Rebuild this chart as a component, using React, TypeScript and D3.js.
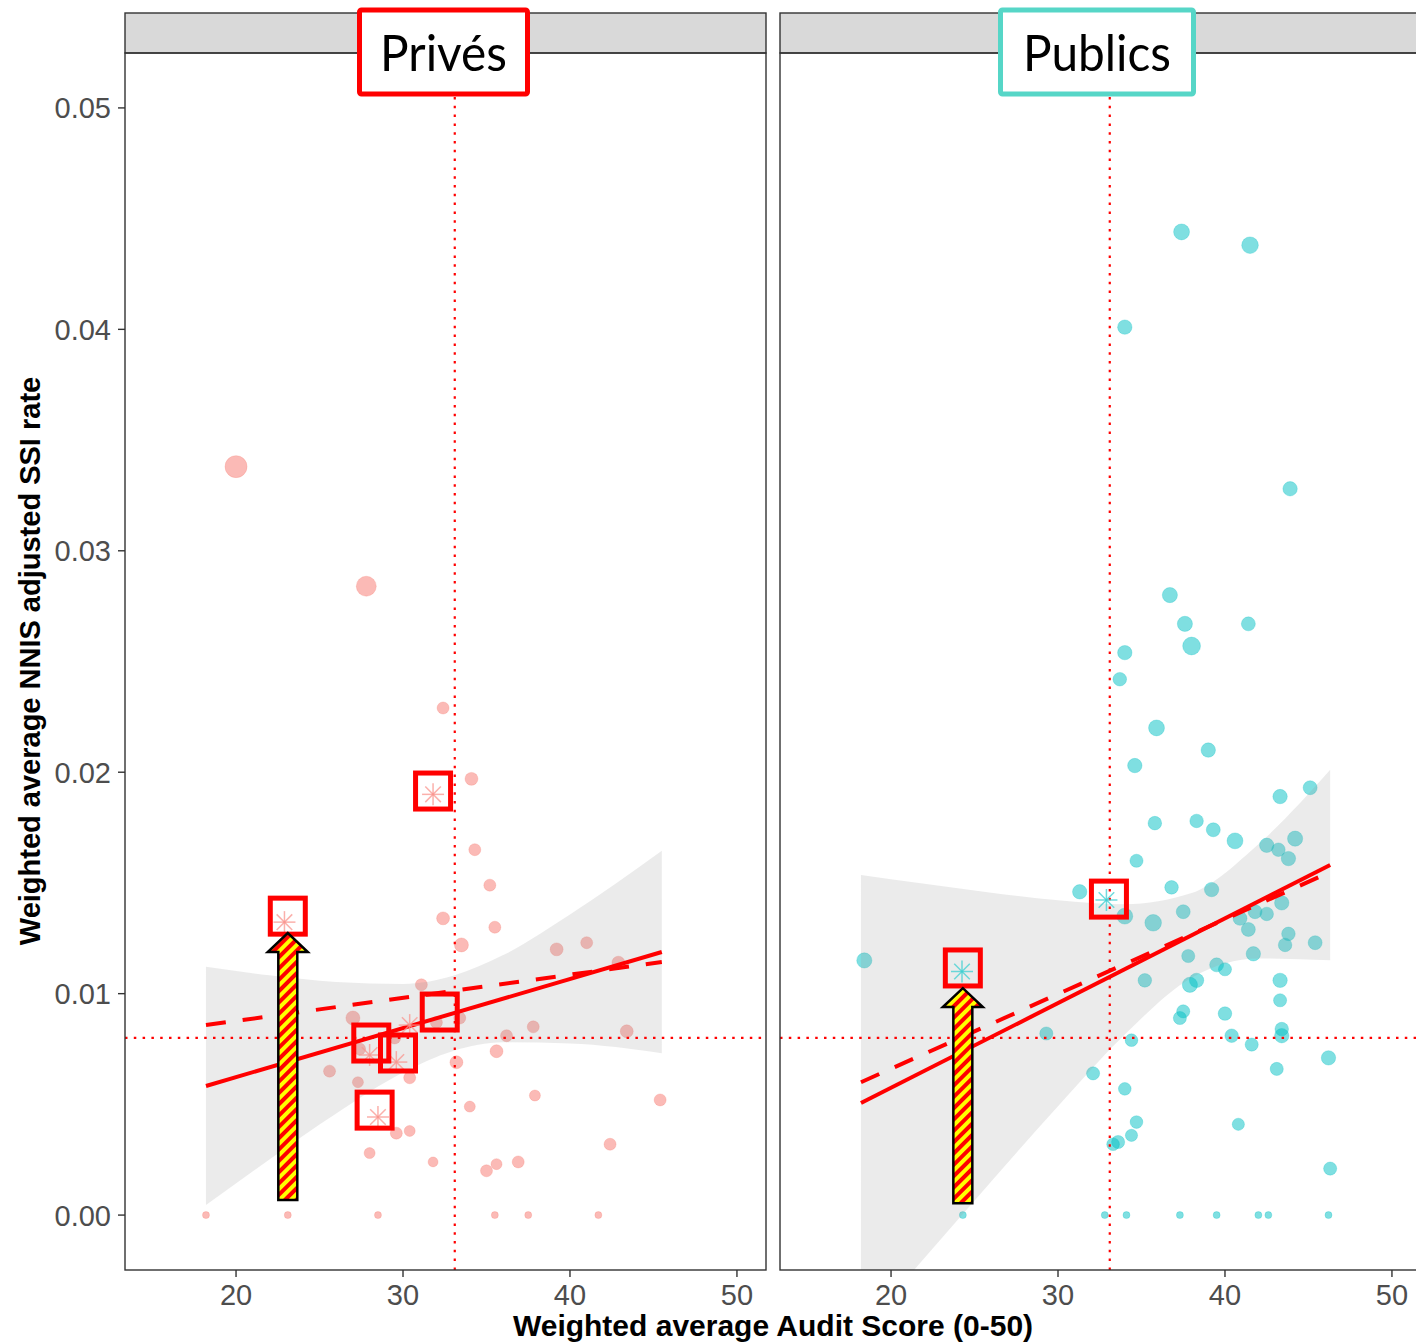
import React, { useEffect, useRef } from 'react';
import * as d3 from 'd3';

const WIDTH = 1416;
const HEIGHT = 1343;

// Privés: weighted audit score, NNIS adjusted SSI rate, weight (point size)
const privesScore = [20.0, 27.8, 32.4, 34.1, 34.3, 35.2, 32.4, 35.5, 33.5, 39.2, 41.0, 42.9, 31.1, 27.0, 32.0, 33.4, 37.8, 36.2, 43.4, 29.5, 27.4, 35.6, 33.2, 30.4, 25.6, 27.3, 34.0, 37.9, 45.4, 29.6, 30.4, 42.4, 28.0, 31.8, 35.6, 35.0, 36.9, 18.2, 23.1, 28.5, 35.5, 37.5, 41.7];
const privesRate = [0.0338, 0.0284, 0.0229, 0.0197, 0.0165, 0.0149, 0.0134, 0.013, 0.0122, 0.012, 0.0123, 0.0114, 0.0104, 0.0089, 0.0087, 0.0089, 0.0085, 0.0081, 0.0083, 0.008, 0.0075, 0.0074, 0.0069, 0.0062, 0.0065, 0.006, 0.0049, 0.0054, 0.0052, 0.0037, 0.0038, 0.0032, 0.0028, 0.0024, 0.0023, 0.002, 0.0024, 0, 0, 0, 0, 0, 0];
const privesWeight = [8.4, 6.9, 2.5, 2.9, 2.5, 2.5, 2.9, 2.5, 3.4, 2.9, 2.5, 2.9, 2.5, 3.4, 2.5, 2.5, 2.5, 2.5, 2.9, 2.5, 2.5, 2.9, 2.9, 2.5, 2.5, 2.1, 2.1, 2.1, 2.5, 2.5, 2.1, 2.5, 2.1, 1.7, 2.1, 2.5, 2.5, 0.85, 0.85, 0.85, 0.85, 0.85, 0.85];
const privesStarScore = [22.9, 31.8, 28.0, 29.6, 28.5, 30.4];
const privesStarRate = [0.01323, 0.019, 0.00723, 0.00691, 0.00443, 0.00858];
const privesBoxScore = [23.1, 31.8, 28.1, 29.7, 32.2, 28.3];
const privesBoxRate = [0.0135, 0.01915, 0.00777, 0.00732, 0.00917, 0.00474];
const privesFitScore = [18.2, 45.5];
const privesFitWeighted = [0.00583, 0.01188];
const privesFitDashed = [0.00858, 0.01143];
const privesBandScore = [18.2, 22, 26, 30, 33, 36, 40, 45.5];
const privesBandLow = [0.00045, 0.00251, 0.00459, 0.00644, 0.00741, 0.0078, 0.00775, 0.00731];
const privesBandHigh = [0.01121, 0.01083, 0.01053, 0.01044, 0.01081, 0.01174, 0.01357, 0.01645];
const privesArrow = { score: 23.1, from: 0.00068, to: 0.01274 };

// Publics
const publicsScore = [37.4, 41.5, 34.0, 43.9, 36.7, 37.6, 41.4, 38.0, 34.0, 33.7, 35.9, 39.0, 34.6, 45.1, 43.3, 38.3, 35.8, 39.3, 40.6, 42.5, 43.2, 44.2, 43.8, 34.7, 31.3, 36.8, 39.2, 43.4, 37.5, 34.0, 35.7, 40.9, 41.8, 42.5, 41.4, 43.8, 41.7, 45.4, 43.6, 37.8, 35.2, 39.5, 40.0, 43.3, 38.3, 37.9, 43.3, 37.5, 37.3, 40.0, 29.3, 34.4, 40.4, 43.4, 43.4, 41.6, 46.2, 32.1, 34.0, 43.1, 34.7, 40.8, 34.4, 33.6, 33.3, 46.3, 18.4, 24.3, 32.8, 34.1, 37.3, 39.5, 42.0, 42.6, 46.2];
const publicsRate = [0.0444, 0.0438, 0.0401, 0.0328, 0.028, 0.0267, 0.0267, 0.0257, 0.0254, 0.0242, 0.022, 0.021, 0.0203, 0.0193, 0.0189, 0.0178, 0.0177, 0.0174, 0.0169, 0.0167, 0.0165, 0.017, 0.0161, 0.016, 0.0146, 0.0148, 0.0147, 0.0141, 0.0137, 0.0135, 0.0132, 0.0134, 0.0137, 0.0136, 0.0129, 0.0127, 0.0118, 0.0123, 0.0122, 0.0117, 0.0106, 0.0113, 0.0111, 0.0106, 0.0106, 0.0104, 0.0097, 0.0092, 0.0089, 0.0091, 0.0082, 0.0079, 0.0081, 0.0084, 0.0081, 0.0077, 0.0071, 0.0064, 0.0057, 0.0066, 0.0042, 0.0041, 0.0036, 0.0033, 0.0032, 0.0021, 0.0115, 0, 0, 0, 0, 0, 0, 0, 0];
const publicsWeight = [4.4, 4.8, 3.6, 3.6, 4, 4, 3.4, 5.5, 3.6, 3.2, 4.4, 3.6, 3.6, 3.4, 3.6, 3.2, 3.2, 3.4, 4.4, 3.6, 3.2, 4, 3.6, 3, 3.6, 3.2, 3.6, 3.6, 3.4, 4.4, 4.8, 3.4, 3.4, 3.2, 3.4, 3.2, 3.6, 3.4, 3.2, 3, 3.2, 3.4, 3, 3.6, 3.6, 4, 3, 3, 3, 3.2, 3, 2.8, 3.2, 3.2, 3.6, 3, 3.6, 3, 2.8, 3, 2.8, 2.6, 2.6, 3, 2.8, 3, 4, 0.85, 0.85, 0.85, 0.85, 0.85, 0.85, 0.85, 0.85];
const publicsStarScore = [24.25, 32.9];
const publicsStarRate = [0.011, 0.01423];
const publicsBoxScore = [24.3, 33.05];
const publicsBoxRate = [0.01116, 0.01427];
const publicsFitScore = [18.2, 46.3];
const publicsFitWeighted = [0.00506, 0.01581];
const publicsFitDashed = [0.006, 0.01549];
const publicsBandScore = [18.2, 22, 26, 30, 34, 38, 42, 46.3];
const publicsBandLow = [-0.00524, -0.00194, 0.00152, 0.00492, 0.00816, 0.01072, 0.01159, 0.01151];
const publicsBandHigh = [0.01536, 0.01496, 0.01456, 0.01422, 0.01404, 0.01454, 0.01675, 0.02011];
const publicsArrow = { score: 24.3, from: 0.00054, to: 0.01025 };

// reference lines
const meanScore = 33.1;
const meanRate = 0.008;

const xTicks = [20, 30, 40, 50];
const yTicks = [0, 0.01, 0.02, 0.03, 0.04, 0.05];

const panels = [
  {
    key: 'prives', label: 'Privés', colour: '#F8766D', starColour: '#f9968f', frame: '#ff0000',
    x0: 125, x1: 766, labelBox: [357, 530], textLength: 127,
    score: privesScore, rate: privesRate, weight: privesWeight,
    starScore: privesStarScore, starRate: privesStarRate,
    boxScore: privesBoxScore, boxRate: privesBoxRate,
    fitScore: privesFitScore, fitW: privesFitWeighted, fitD: privesFitDashed,
    bandScore: privesBandScore, bandLow: privesBandLow, bandHigh: privesBandHigh,
    arrow: privesArrow
  },
  {
    key: 'publics', label: 'Publics', colour: '#00BFC4', starColour: '#3fcfd2', frame: '#56d6c7',
    x0: 780, x1: 1421, labelBox: [998, 1196], textLength: 148,
    score: publicsScore, rate: publicsRate, weight: publicsWeight,
    starScore: publicsStarScore, starRate: publicsStarRate,
    boxScore: publicsBoxScore, boxRate: publicsBoxRate,
    fitScore: publicsFitScore, fitW: publicsFitWeighted, fitD: publicsFitDashed,
    bandScore: publicsBandScore, bandLow: publicsBandLow, bandHigh: publicsBandHigh,
    arrow: publicsArrow
  }
];

const STRIP_TOP = 13;
const BODY_TOP = 53;
const BODY_BOTTOM = 1270;

const App = () => {
  const rootRef = useRef<SVGSVGElement>(null);

  useEffect(() => {
    const svg = d3.select(rootRef.current).attr('width', WIDTH).attr('height', HEIGHT);
    svg.selectAll('*').remove();

    const defs = svg.append('defs');
    const pat = defs
      .append('pattern')
      .attr('id', 'stripes')
      .attr('width', 8)
      .attr('height', 8)
      .attr('patternUnits', 'userSpaceOnUse')
      .attr('patternTransform', 'rotate(45)');
    pat.append('rect').attr('width', 8).attr('height', 8).attr('fill', '#ffff00');
    pat.append('rect').attr('width', 4).attr('height', 8).attr('fill', '#ff0000');

    const y = d3.scaleLinear().domain([-0.00248, 0.05248]).range([BODY_BOTTOM, BODY_TOP]);
    const r = d3.scaleSqrt().domain([0, 10]).range([0, 12]);

    panels.forEach((p) => {
      const x = d3.scaleLinear().domain([13.35, 51.74]).range([p.x0, p.x1]);
      const g = svg.append('g');

      defs
        .append('clipPath')
        .attr('id', 'clip-' + p.key)
        .append('rect')
        .attr('x', p.x0)
        .attr('y', BODY_TOP)
        .attr('width', p.x1 - p.x0)
        .attr('height', BODY_BOTTOM - BODY_TOP);

      // strip
      g.append('rect')
        .attr('x', p.x0)
        .attr('y', STRIP_TOP)
        .attr('width', p.x1 - p.x0)
        .attr('height', BODY_TOP - STRIP_TOP)
        .attr('fill', '#d9d9d9')
        .attr('stroke', '#333')
        .attr('stroke-width', 1.4);

      const body = g.append('g').attr('clip-path', `url(#clip-${p.key})`);

      // points
      body
        .selectAll('circle.pt')
        .data(d3.range(p.score.length))
        .enter()
        .append('circle')
        .attr('class', 'pt')
        .attr('cx', (i) => x(p.score[i]))
        .attr('cy', (i) => y(p.rate[i]))
        .attr('r', (i) => r(p.weight[i]))
        .attr('fill', p.colour)
        .attr('fill-opacity', 0.5)
        .attr('stroke', p.colour)
        .attr('stroke-opacity', 0.25)
        .attr('stroke-width', 1);

      // confidence band
      const band = d3
        .area<number>()
        .x((i) => x(p.bandScore[i]))
        .y0((i) => y(p.bandLow[i]))
        .y1((i) => y(p.bandHigh[i]))
        .curve(d3.curveMonotoneX);
      body
        .append('path')
        .attr('d', band(d3.range(p.bandScore.length)))
        .attr('fill', '#999999')
        .attr('fill-opacity', 0.2);

      // fitted lines
      const line = d3.line<[number, number]>().x((d) => x(d[0])).y((d) => y(d[1]));
      body
        .append('path')
        .attr('d', line(p.fitScore.map((s, i) => [s, p.fitD[i]] as [number, number])))
        .attr('fill', 'none')
        .attr('stroke', '#ff0000')
        .attr('stroke-width', 4)
        .attr('stroke-dasharray', '20,17');
      body
        .append('path')
        .attr('d', line(p.fitScore.map((s, i) => [s, p.fitW[i]] as [number, number])))
        .attr('fill', 'none')
        .attr('stroke', '#ff0000')
        .attr('stroke-width', 4);

      // reference lines
      body
        .append('line')
        .attr('x1', x(meanScore))
        .attr('x2', x(meanScore))
        .attr('y1', BODY_TOP)
        .attr('y2', BODY_BOTTOM)
        .attr('stroke', '#ff0000')
        .attr('stroke-width', 2.2)
        .attr('stroke-dasharray', '2.5,6.3');
      body
        .append('line')
        .attr('x1', p.x0)
        .attr('x2', p.x1)
        .attr('y1', y(meanRate))
        .attr('y2', y(meanRate))
        .attr('stroke', '#ff0000')
        .attr('stroke-width', 2.2)
        .attr('stroke-dasharray', '2.5,6.3');

      // asterisks
      p.starScore.forEach((s, i) => {
        const cx = x(s);
        const cy = y(p.starRate[i]);
        const st = g.append('g').attr('transform', `translate(${cx},${cy})`);
        [0, 45, 90, 135].forEach((a) => {
          const rad = (a * Math.PI) / 180;
          st.append('line')
            .attr('x1', -11 * Math.cos(rad))
            .attr('y1', -11 * Math.sin(rad))
            .attr('x2', 11 * Math.cos(rad))
            .attr('y2', 11 * Math.sin(rad))
            .attr('stroke', p.starColour)
            .attr('stroke-opacity', 0.75)
            .attr('stroke-width', 1.5);
        });
      });

      // highlight boxes
      p.boxScore.forEach((s, i) => {
        g.append('rect')
          .attr('x', x(s) - 17.5)
          .attr('y', y(p.boxRate[i]) - 18)
          .attr('width', 35)
          .attr('height', 36)
          .attr('fill', 'none')
          .attr('stroke', '#ff0000')
          .attr('stroke-width', 5);
      });

      // arrow
      const ax = x(p.arrow.score);
      const yb = y(p.arrow.from);
      const yt = y(p.arrow.to);
      const sw = 9.5;
      const hw = 20;
      const hh = 19;
      const pts: [number, number][] = [
        [ax - sw, yb],
        [ax - sw, yt + hh],
        [ax - hw, yt + hh],
        [ax, yt],
        [ax + hw, yt + hh],
        [ax + sw, yt + hh],
        [ax + sw, yb]
      ];
      g.append('path')
        .attr('d', d3.line()(pts) + 'Z')
        .attr('fill', 'url(#stripes)')
        .attr('stroke', '#000')
        .attr('stroke-width', 2.5)
        .attr('stroke-linejoin', 'miter');

      // panel frame
      g.append('rect')
        .attr('x', p.x0)
        .attr('y', BODY_TOP)
        .attr('width', p.x1 - p.x0)
        .attr('height', BODY_BOTTOM - BODY_TOP)
        .attr('fill', 'none')
        .attr('stroke', '#333')
        .attr('stroke-width', 1.4);

      // x axis
      const xa = g.append('g');
      xTicks.forEach((t) => {
        xa.append('line')
          .attr('x1', x(t))
          .attr('x2', x(t))
          .attr('y1', BODY_BOTTOM)
          .attr('y2', BODY_BOTTOM + 7)
          .attr('stroke', '#333')
          .attr('stroke-width', 1.4);
        xa.append('text')
          .attr('x', x(t))
          .attr('y', BODY_BOTTOM + 35)
          .attr('text-anchor', 'middle')
          .attr('font-family', 'Liberation Sans, Arial, sans-serif')
          .attr('font-size', 29)
          .attr('fill', '#4d4d4d')
          .text(t);
      });

      // header label box
      const [bx0, bx1] = p.labelBox;
      g.append('rect')
        .attr('x', bx0 + 2.5)
        .attr('y', 10)
        .attr('width', bx1 - bx0 - 5)
        .attr('height', 84)
        .attr('rx', 2)
        .attr('fill', '#fff')
        .attr('stroke', p.frame)
        .attr('stroke-width', 5);
      g.append('text')
        .attr('x', (bx0 + bx1) / 2)
        .attr('y', 71)
        .attr('text-anchor', 'middle')
        .attr('font-family', 'Lato, sans-serif')
        .attr('font-size', 50)
        .attr('textLength', p.textLength)
        .attr('lengthAdjust', 'spacingAndGlyphs')
        .attr('fill', '#000')
        .text(p.label);
    });

    // y axis on the left panel
    const ya = svg.append('g');
    yTicks.forEach((t) => {
      ya.append('line')
        .attr('x1', 118)
        .attr('x2', 125)
        .attr('y1', y(t))
        .attr('y2', y(t))
        .attr('stroke', '#333')
        .attr('stroke-width', 1.4);
      ya.append('text')
        .attr('x', 111)
        .attr('y', y(t) + 10.5)
        .attr('text-anchor', 'end')
        .attr('font-family', 'Liberation Sans, Arial, sans-serif')
        .attr('font-size', 29)
        .attr('fill', '#4d4d4d')
        .text(d3.format('.2f')(t));
    });

    svg
      .append('text')
      .attr('transform', 'translate(40,661) rotate(-90)')
      .attr('text-anchor', 'middle')
      .attr('font-family', 'Liberation Sans, Arial, sans-serif')
      .attr('font-weight', 'bold')
      .attr('font-size', 29)
      .attr('fill', '#000')
      .text('Weighted average NNIS adjusted SSI rate');

    svg
      .append('text')
      .attr('x', 773)
      .attr('y', 1336)
      .attr('text-anchor', 'middle')
      .attr('font-family', 'Liberation Sans, Arial, sans-serif')
      .attr('font-weight', 'bold')
      .attr('font-size', 30)
      .attr('fill', '#000')
      .text('Weighted average Audit Score (0-50)');
  }, []);

  return (
    <div style={{ position: 'absolute', left: 0, top: 0 }}>
      <svg ref={rootRef} style={{ display: 'block' }}></svg>
    </div>
  );
};

export default App;
